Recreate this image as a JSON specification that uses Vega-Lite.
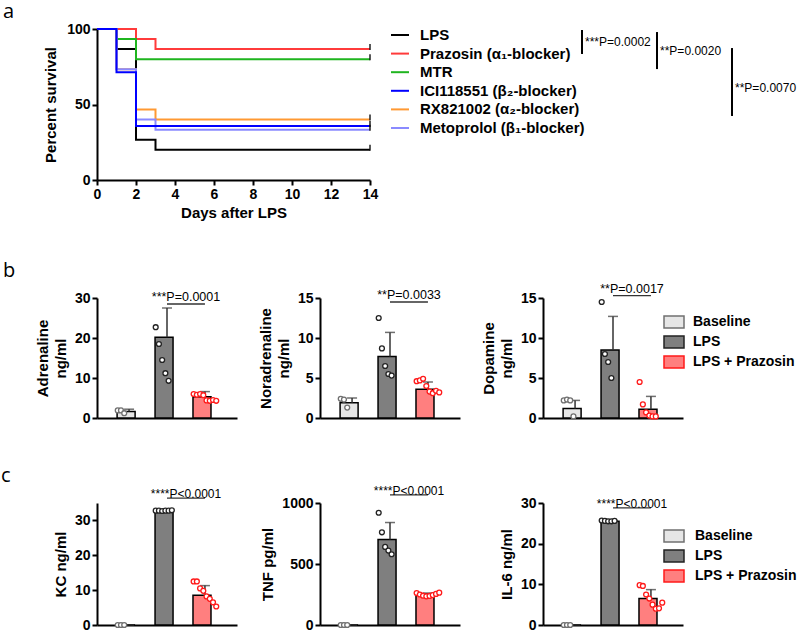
{
 "$schema": "https://vega.github.io/schema/vega-lite/v6.json",
 "background": "white",
 "padding": {"left": 1, "top": 2, "right": 0, "bottom": 0},
 "config": {
  "font": "Liberation Sans",
  "view": {"stroke": null},
  "axis": {"domainColor": "black", "domainWidth": 2, "tickColor": "black", "tickWidth": 2, "tickSize": 5, "labelFontWeight": "bold", "labelFontSize": 14, "labelColor": "black", "labelPadding": 2, "labelOverlap": false, "labelFlush": false, "titleFontWeight": "bold", "titleFontSize": 15, "titleColor": "black", "grid": false},
  "legend": {"labelFontWeight": "bold", "labelFontSize": 15, "labelColor": "black", "padding": 0, "labelLimit": 400},
  "title": {"anchor": "start", "frame": "group", "font": "Open Sans", "fontSize": 20, "fontWeight": "normal", "color": "black", "baseline": "alphabetic"},
  "text": {"font": "Liberation Sans", "color": "black"}
 },
 "datasets": {
  "surv": [
   {"group": "LPS", "day": 0, "pct": 100}, {"group": "LPS", "day": 1, "pct": 86.7}, {"group": "LPS", "day": 2, "pct": 26.7}, {"group": "LPS", "day": 3, "pct": 20}, {"group": "LPS", "day": 14, "pct": 20},
   {"group": "Prazosin (α₁-blocker)", "day": 0, "pct": 100}, {"group": "Prazosin (α₁-blocker)", "day": 1, "pct": 100}, {"group": "Prazosin (α₁-blocker)", "day": 2, "pct": 93.3}, {"group": "Prazosin (α₁-blocker)", "day": 3, "pct": 86.7}, {"group": "Prazosin (α₁-blocker)", "day": 14, "pct": 86.7},
   {"group": "MTR", "day": 0, "pct": 100}, {"group": "MTR", "day": 1, "pct": 93.3}, {"group": "MTR", "day": 2, "pct": 80}, {"group": "MTR", "day": 3, "pct": 80}, {"group": "MTR", "day": 14, "pct": 80},
   {"group": "RX821002 (α₂-blocker)", "day": 0, "pct": 100}, {"group": "RX821002 (α₂-blocker)", "day": 1, "pct": 73.3}, {"group": "RX821002 (α₂-blocker)", "day": 2, "pct": 46.7}, {"group": "RX821002 (α₂-blocker)", "day": 3, "pct": 40}, {"group": "RX821002 (α₂-blocker)", "day": 14, "pct": 40},
   {"group": "Metoprolol (β₁-blocker)", "day": 0, "pct": 100}, {"group": "Metoprolol (β₁-blocker)", "day": 1, "pct": 73.3}, {"group": "Metoprolol (β₁-blocker)", "day": 2, "pct": 40}, {"group": "Metoprolol (β₁-blocker)", "day": 3, "pct": 33.3}, {"group": "Metoprolol (β₁-blocker)", "day": 14, "pct": 33.3},
   {"group": "ICI118551 (β₂-blocker)", "day": 0, "pct": 100}, {"group": "ICI118551 (β₂-blocker)", "day": 1, "pct": 71.4}, {"group": "ICI118551 (β₂-blocker)", "day": 2, "pct": 35.7}, {"group": "ICI118551 (β₂-blocker)", "day": 3, "pct": 35.7}, {"group": "ICI118551 (β₂-blocker)", "day": 14, "pct": 35.7}
  ],
  "brk": [
   {"lev": 1, "r1": 0.73, "r2": 2.02, "rl": 1.35, "label": "***P=0.0002"},
   {"lev": 2, "r1": 0.84, "r2": 2.83, "rl": 1.86, "label": "**P=0.0020"},
   {"lev": 3, "r1": 1.7, "r2": 5.35, "rl": 3.85, "label": "**P=0.0070"}
  ],
  "adr_bar": [{"g": "Baseline", "mean": 1.6, "hi": 2.2}, {"g": "LPS", "mean": 20.2, "hi": 27.5}, {"g": "LPS + Prazosin", "mean": 5.3, "hi": 6.6}],
  "nor_bar": [{"g": "Baseline", "mean": 1.9, "hi": 2.5}, {"g": "LPS", "mean": 7.7, "hi": 10.7}, {"g": "LPS + Prazosin", "mean": 3.6, "hi": 4.5}],
  "dop_bar": [{"g": "Baseline", "mean": 1.2, "hi": 2.2}, {"g": "LPS", "mean": 8.5, "hi": 12.7}, {"g": "LPS + Prazosin", "mean": 1.1, "hi": 2.7}],
  "kc_bar": [{"g": "Baseline", "mean": 0, "hi": 0}, {"g": "LPS", "mean": 32.8, "hi": 32.9}, {"g": "LPS + Prazosin", "mean": 8.5, "hi": 11.3}],
  "tnf_bar": [{"g": "Baseline", "mean": 0, "hi": 0}, {"g": "LPS", "mean": 700, "hi": 840}, {"g": "LPS + Prazosin", "mean": 255, "hi": 262}],
  "il6_bar": [{"g": "Baseline", "mean": 0, "hi": 0}, {"g": "LPS", "mean": 25.5, "hi": 25.6}, {"g": "LPS + Prazosin", "mean": 6.5, "hi": 8.7}],
  "adr_pts": [
   {"g": "Baseline", "rep": 1, "v": 1.9}, {"g": "Baseline", "rep": 2, "v": 1.9}, {"g": "Baseline", "rep": 3, "v": 1.2},
   {"g": "LPS", "rep": 1, "v": 22.7}, {"g": "LPS", "rep": 2, "v": 18.5}, {"g": "LPS", "rep": 3, "v": 14.5}, {"g": "LPS", "rep": 4, "v": 11.2}, {"g": "LPS", "rep": 5, "v": 9.3},
   {"g": "LPS + Prazosin", "rep": 1, "v": 6.0}, {"g": "LPS + Prazosin", "rep": 2, "v": 5.8}, {"g": "LPS + Prazosin", "rep": 3, "v": 6.0}, {"g": "LPS + Prazosin", "rep": 4, "v": 5.7}, {"g": "LPS + Prazosin", "rep": 5, "v": 4.4}, {"g": "LPS + Prazosin", "rep": 6, "v": 4.3}, {"g": "LPS + Prazosin", "rep": 7, "v": 4.5}, {"g": "LPS + Prazosin", "rep": 8, "v": 4.3}
  ],
  "nor_pts": [
   {"g": "Baseline", "rep": 1, "v": 2.4}, {"g": "Baseline", "rep": 2, "v": 2.3}, {"g": "Baseline", "rep": 3, "v": 1.3},
   {"g": "LPS", "rep": 1, "v": 12.5}, {"g": "LPS", "rep": 2, "v": 8.7}, {"g": "LPS", "rep": 3, "v": 6.5}, {"g": "LPS", "rep": 4, "v": 5.5}, {"g": "LPS", "rep": 5, "v": 5.3},
   {"g": "LPS + Prazosin", "rep": 1, "v": 4.6}, {"g": "LPS + Prazosin", "rep": 2, "v": 4.7}, {"g": "LPS + Prazosin", "rep": 3, "v": 4.9}, {"g": "LPS + Prazosin", "rep": 4, "v": 4.0}, {"g": "LPS + Prazosin", "rep": 5, "v": 3.3}, {"g": "LPS + Prazosin", "rep": 6, "v": 3.1}, {"g": "LPS + Prazosin", "rep": 7, "v": 3.4}, {"g": "LPS + Prazosin", "rep": 8, "v": 3.2}
  ],
  "dop_pts": [
   {"g": "Baseline", "rep": 1, "v": 2.2}, {"g": "Baseline", "rep": 2, "v": 2.3}, {"g": "Baseline", "rep": 3, "v": 2.2}, {"g": "Baseline", "rep": 4, "v": 0.2},
   {"g": "LPS", "rep": 1, "v": 14.5}, {"g": "LPS", "rep": 2, "v": 8.0}, {"g": "LPS", "rep": 3, "v": 7.0}, {"g": "LPS", "rep": 4, "v": 5.0},
   {"g": "LPS + Prazosin", "rep": 1, "v": 4.5}, {"g": "LPS + Prazosin", "rep": 2, "v": 1.7}, {"g": "LPS + Prazosin", "rep": 3, "v": 0.7}, {"g": "LPS + Prazosin", "rep": 4, "v": 0.3}, {"g": "LPS + Prazosin", "rep": 5, "v": 0.2}, {"g": "LPS + Prazosin", "rep": 6, "v": 0.2}
  ],
  "kc_pts": [
   {"g": "Baseline", "rep": 1, "v": 0}, {"g": "Baseline", "rep": 2, "v": 0}, {"g": "Baseline", "rep": 3, "v": 0},
   {"g": "LPS", "rep": 1, "v": 32.8}, {"g": "LPS", "rep": 2, "v": 32.8}, {"g": "LPS", "rep": 3, "v": 32.7}, {"g": "LPS", "rep": 4, "v": 32.8}, {"g": "LPS", "rep": 5, "v": 32.8}, {"g": "LPS", "rep": 6, "v": 32.9},
   {"g": "LPS + Prazosin", "rep": 1, "v": 12.5}, {"g": "LPS + Prazosin", "rep": 2, "v": 12.5}, {"g": "LPS + Prazosin", "rep": 3, "v": 10.5}, {"g": "LPS + Prazosin", "rep": 4, "v": 9.8}, {"g": "LPS + Prazosin", "rep": 5, "v": 8.2}, {"g": "LPS + Prazosin", "rep": 6, "v": 7.5}, {"g": "LPS + Prazosin", "rep": 7, "v": 6.5}, {"g": "LPS + Prazosin", "rep": 8, "v": 5.3}
  ],
  "tnf_pts": [
   {"g": "Baseline", "rep": 1, "v": 0}, {"g": "Baseline", "rep": 2, "v": 0}, {"g": "Baseline", "rep": 3, "v": 0},
   {"g": "LPS", "rep": 1, "v": 920}, {"g": "LPS", "rep": 2, "v": 760}, {"g": "LPS", "rep": 3, "v": 640}, {"g": "LPS", "rep": 4, "v": 610}, {"g": "LPS", "rep": 5, "v": 580},
   {"g": "LPS + Prazosin", "rep": 1, "v": 262}, {"g": "LPS + Prazosin", "rep": 2, "v": 250}, {"g": "LPS + Prazosin", "rep": 3, "v": 240}, {"g": "LPS + Prazosin", "rep": 4, "v": 235}, {"g": "LPS + Prazosin", "rep": 5, "v": 238}, {"g": "LPS + Prazosin", "rep": 6, "v": 245}, {"g": "LPS + Prazosin", "rep": 7, "v": 255}, {"g": "LPS + Prazosin", "rep": 8, "v": 265}
  ],
  "il6_pts": [
   {"g": "Baseline", "rep": 1, "v": 0}, {"g": "Baseline", "rep": 2, "v": 0}, {"g": "Baseline", "rep": 3, "v": 0},
   {"g": "LPS", "rep": 1, "v": 25.7}, {"g": "LPS", "rep": 2, "v": 25.6}, {"g": "LPS", "rep": 3, "v": 25.5}, {"g": "LPS", "rep": 4, "v": 25.5}, {"g": "LPS", "rep": 5, "v": 25.6},
   {"g": "LPS + Prazosin", "rep": 1, "v": 9.8}, {"g": "LPS + Prazosin", "rep": 2, "v": 9.6}, {"g": "LPS + Prazosin", "rep": 3, "v": 7.5}, {"g": "LPS + Prazosin", "rep": 4, "v": 6.5}, {"g": "LPS + Prazosin", "rep": 5, "v": 5.0}, {"g": "LPS + Prazosin", "rep": 6, "v": 4.0}, {"g": "LPS + Prazosin", "rep": 7, "v": 4.1}, {"g": "LPS + Prazosin", "rep": 8, "v": 5.5}
  ],
  "adr_ann": [{"a": "LPS", "b": "LPS + Prazosin", "y": 28.5, "label": "***P=0.0001"}],
  "nor_ann": [{"a": "LPS", "b": "LPS + Prazosin", "y": 14.5, "label": "**P=0.0033"}],
  "dop_ann": [{"a": "LPS", "b": "LPS + Prazosin", "y": 15.3, "label": "**P=0.0017"}],
  "kc_ann": [{"a": "LPS", "b": "LPS + Prazosin", "y": 36.4, "label": "****P<0.0001"}],
  "tnf_ann": [{"a": "LPS", "b": "LPS + Prazosin", "y": 1066, "label": "****P<0.0001"}],
  "il6_ann": [{"a": "LPS", "b": "LPS + Prazosin", "y": 28.8, "label": "****P<0.0001"}]
 },
 "resolve": {"scale": {"fill": "independent", "stroke": "independent", "color": "independent"}, "legend": {"fill": "independent", "stroke": "independent", "color": "independent"}},
 "spacing": 41,
 "vconcat": [
  {
   "bounds": "flush",
   "spacing": 207,
   "hconcat": [
    {
     "width": 273, "height": 151,
     "title": {"text": "a", "dx": -94, "offset": 0},
     "data": {"name": "surv"},
     "layer": [
      {
       "mark": {"type": "line", "interpolate": "step-after", "strokeWidth": 2},
       "encoding": {
        "x": {"field": "day", "type": "quantitative", "scale": {"domain": [0, 14], "nice": false}, "axis": {"values": [0, 2, 4, 6, 8, 10, 12, 14], "tickCount": 20, "format": "d", "title": "Days after LPS", "titlePadding": 4}},
        "y": {"field": "pct", "type": "quantitative", "scale": {"domain": [0, 100], "nice": false}, "axis": {"values": [0, 50, 100], "tickCount": 20, "format": "d", "title": "Percent survival", "titlePadding": 8}},
        "color": {"field": "group", "type": "nominal",
         "scale": {"domain": ["LPS", "Prazosin (α₁-blocker)", "MTR", "ICI118551 (β₂-blocker)", "RX821002 (α₂-blocker)", "Metoprolol (β₁-blocker)"], "range": ["#000000", "#ff3b3b", "#1fb51f", "#0000ff", "#ff9933", "#8a8aff"]},
         "legend": {"orient": "none", "legendX": 293, "legendY": -4, "title": null, "symbolType": "stroke", "symbolSize": 324, "symbolStrokeWidth": 2, "labelOffset": 10, "rowPadding": 0.6}}
       }
      },
      {
       "transform": [{"filter": "datum.day == 14"}],
       "mark": {"type": "tick", "orient": "vertical", "color": "#111111", "size": 6, "thickness": 2, "yOffset": -2},
       "encoding": {
        "x": {"field": "day", "type": "quantitative"},
        "y": {"field": "pct", "type": "quantitative"}
       }
      }
     ]
    },
    {
     "width": 225, "height": 151,
     "data": {"name": "brk"},
     "layer": [
      {
       "mark": {"type": "rule", "color": "black", "strokeWidth": 2},
       "encoding": {
        "x": {"field": "lev", "type": "quantitative", "scale": {"domain": [0.933, 3.933], "nice": false, "zero": false}, "axis": null},
        "y": {"field": "r1", "type": "quantitative", "scale": {"domain": [0.677, 8.79], "reverse": true, "nice": false, "zero": false}, "axis": null},
        "y2": {"field": "r2"}
       }
      },
      {
       "mark": {"type": "text", "align": "left", "baseline": "middle", "dx": 3, "fontSize": 12},
       "encoding": {
        "x": {"field": "lev", "type": "quantitative"},
        "y": {"field": "rl", "type": "quantitative"},
        "text": {"field": "label"}
       }
      }
     ]
    }
   ]
  },
  {
   "bounds": "flush",
   "spacing": 83,
   "resolve": {"scale": {"fill": "independent", "stroke": "independent"}, "legend": {"fill": "independent", "stroke": "independent"}},
   "hconcat": [
    {
     "width": 140, "height": 120,
     "title": {"text": "b", "dx": -94, "offset": 10},
     "layer": [
      {"data": {"name": "adr_bar"}, "mark": {"type": "bar", "stroke": "black", "strokeWidth": 1.5},
       "encoding": {
        "x": {"field": "g", "type": "nominal", "scale": {"domain": ["Baseline", "LPS", "LPS + Prazosin"], "paddingInner": 0.37, "paddingOuter": 0.53}, "axis": {"labels": false, "ticks": false, "title": null}},
        "y": {"field": "mean", "type": "quantitative", "scale": {"domain": [0, 30], "nice": false}, "axis": {"values": [0, 10, 20, 30], "tickCount": 20, "format": "d", "title": ["Adrenaline", "ng/ml"], "titleLineHeight": 18, "titlePadding": 6}},
        "fill": {"field": "g", "type": "nominal", "scale": {"domain": ["Baseline", "LPS", "LPS + Prazosin"], "range": ["#e6e6e6", "#7f7f7f", "#ff7f7f"]}, "legend": null}}},
      {"data": {"name": "adr_bar"}, "mark": {"type": "rule", "color": "#333333", "strokeWidth": 1.5},
       "encoding": {"x": {"field": "g", "type": "nominal"}, "y": {"field": "mean", "type": "quantitative"}, "y2": {"field": "hi"}}},
      {"data": {"name": "adr_bar"}, "mark": {"type": "tick", "color": "#333333", "thickness": 1.5, "size": 10},
       "encoding": {"x": {"field": "g", "type": "nominal"}, "y": {"field": "hi", "type": "quantitative"}}},
      {"data": {"name": "adr_pts"}, "mark": {"type": "point", "shape": "circle", "fill": "white", "fillOpacity": 1, "opacity": 1, "size": 24, "strokeWidth": 1.3},
       "encoding": {"x": {"field": "g", "type": "nominal"}, "xOffset": {"field": "rep", "type": "nominal", "scale": {"paddingOuter": 0.2}}, "y": {"field": "v", "type": "quantitative"},
        "stroke": {"field": "g", "type": "nominal", "scale": {"domain": ["Baseline", "LPS", "LPS + Prazosin"], "range": ["#707070", "#222222", "#ff1a1a"]}, "legend": null}}},
      {"data": {"name": "adr_ann"}, "mark": {"type": "rule", "color": "#333333", "strokeWidth": 1.3},
       "encoding": {"x": {"field": "a", "type": "nominal"}, "x2": {"field": "b"}, "y": {"field": "y", "type": "quantitative"}}},
      {"data": {"name": "adr_ann"}, "mark": {"type": "text", "fontSize": 12.5, "baseline": "alphabetic", "dx": 19, "dy": -3},
       "encoding": {"x": {"field": "a", "type": "nominal"}, "y": {"field": "y", "type": "quantitative"}, "text": {"field": "label"}}}
     ]
    },
    {
     "width": 140, "height": 120,
     "layer": [
      {"data": {"name": "nor_bar"}, "mark": {"type": "bar", "stroke": "black", "strokeWidth": 1.5},
       "encoding": {
        "x": {"field": "g", "type": "nominal", "scale": {"domain": ["Baseline", "LPS", "LPS + Prazosin"], "paddingInner": 0.37, "paddingOuter": 0.53}, "axis": {"labels": false, "ticks": false, "title": null}},
        "y": {"field": "mean", "type": "quantitative", "scale": {"domain": [0, 15], "nice": false}, "axis": {"values": [0, 5, 10, 15], "tickCount": 20, "format": "d", "title": ["Noradrenaline", "ng/ml"], "titleLineHeight": 18, "titlePadding": 6}},
        "fill": {"field": "g", "type": "nominal", "scale": {"domain": ["Baseline", "LPS", "LPS + Prazosin"], "range": ["#e6e6e6", "#7f7f7f", "#ff7f7f"]}, "legend": null}}},
      {"data": {"name": "nor_bar"}, "mark": {"type": "rule", "color": "#333333", "strokeWidth": 1.5},
       "encoding": {"x": {"field": "g", "type": "nominal"}, "y": {"field": "mean", "type": "quantitative"}, "y2": {"field": "hi"}}},
      {"data": {"name": "nor_bar"}, "mark": {"type": "tick", "color": "#333333", "thickness": 1.5, "size": 10},
       "encoding": {"x": {"field": "g", "type": "nominal"}, "y": {"field": "hi", "type": "quantitative"}}},
      {"data": {"name": "nor_pts"}, "mark": {"type": "point", "shape": "circle", "fill": "white", "fillOpacity": 1, "opacity": 1, "size": 24, "strokeWidth": 1.3},
       "encoding": {"x": {"field": "g", "type": "nominal"}, "xOffset": {"field": "rep", "type": "nominal", "scale": {"paddingOuter": 0.2}}, "y": {"field": "v", "type": "quantitative"},
        "stroke": {"field": "g", "type": "nominal", "scale": {"domain": ["Baseline", "LPS", "LPS + Prazosin"], "range": ["#707070", "#222222", "#ff1a1a"]}, "legend": null}}},
      {"data": {"name": "nor_ann"}, "mark": {"type": "rule", "color": "#333333", "strokeWidth": 1.3},
       "encoding": {"x": {"field": "a", "type": "nominal"}, "x2": {"field": "b"}, "y": {"field": "y", "type": "quantitative"}}},
      {"data": {"name": "nor_ann"}, "mark": {"type": "text", "fontSize": 12.5, "baseline": "alphabetic", "dx": 19, "dy": -3},
       "encoding": {"x": {"field": "a", "type": "nominal"}, "y": {"field": "y", "type": "quantitative"}, "text": {"field": "label"}}}
     ]
    },
    {
     "width": 140, "height": 120,
     "layer": [
      {"data": {"name": "dop_bar"}, "mark": {"type": "bar", "stroke": "black", "strokeWidth": 1.5},
       "encoding": {
        "x": {"field": "g", "type": "nominal", "scale": {"domain": ["Baseline", "LPS", "LPS + Prazosin"], "paddingInner": 0.37, "paddingOuter": 0.53}, "axis": {"labels": false, "ticks": false, "title": null}},
        "y": {"field": "mean", "type": "quantitative", "scale": {"domain": [0, 15], "nice": false}, "axis": {"values": [0, 5, 10, 15], "tickCount": 20, "format": "d", "title": ["Dopamine", "ng/ml"], "titleLineHeight": 18, "titlePadding": 6}},
        "fill": {"field": "g", "type": "nominal", "scale": {"domain": ["Baseline", "LPS", "LPS + Prazosin"], "range": ["#e6e6e6", "#7f7f7f", "#ff7f7f"]},
         "legend": {"orient": "none", "legendX": 120, "legendY": 13, "title": null, "symbolType": "M-1,-0.6H1V0.6H-1Z", "symbolSize": 400, "symbolStrokeColor": "black", "symbolStrokeWidth": 1.5, "labelOffset": 8, "labelFontSize": 14, "rowPadding": 0}}}},
      {"data": {"name": "dop_bar"}, "mark": {"type": "rule", "color": "#333333", "strokeWidth": 1.5},
       "encoding": {"x": {"field": "g", "type": "nominal"}, "y": {"field": "mean", "type": "quantitative"}, "y2": {"field": "hi"}}},
      {"data": {"name": "dop_bar"}, "mark": {"type": "tick", "color": "#333333", "thickness": 1.5, "size": 10},
       "encoding": {"x": {"field": "g", "type": "nominal"}, "y": {"field": "hi", "type": "quantitative"}}},
      {"data": {"name": "dop_pts"}, "mark": {"type": "point", "shape": "circle", "fill": "white", "fillOpacity": 1, "opacity": 1, "size": 24, "strokeWidth": 1.3},
       "encoding": {"x": {"field": "g", "type": "nominal"}, "xOffset": {"field": "rep", "type": "nominal", "scale": {"paddingOuter": 0.2}}, "y": {"field": "v", "type": "quantitative"},
        "stroke": {"field": "g", "type": "nominal", "scale": {"domain": ["Baseline", "LPS", "LPS + Prazosin"], "range": ["#707070", "#222222", "#ff1a1a"]}, "legend": null}}},
      {"data": {"name": "dop_ann"}, "mark": {"type": "rule", "color": "#333333", "strokeWidth": 1.3},
       "encoding": {"x": {"field": "a", "type": "nominal"}, "x2": {"field": "b"}, "y": {"field": "y", "type": "quantitative"}}},
      {"data": {"name": "dop_ann"}, "mark": {"type": "text", "fontSize": 12.5, "baseline": "alphabetic", "dx": 19, "dy": -3},
       "encoding": {"x": {"field": "a", "type": "nominal"}, "y": {"field": "y", "type": "quantitative"}, "text": {"field": "label"}}}
     ]
    }
   ]
  },
  {
   "bounds": "flush",
   "spacing": 83,
   "resolve": {"scale": {"fill": "independent", "stroke": "independent"}, "legend": {"fill": "independent", "stroke": "independent"}},
   "hconcat": [
    {
     "width": 140, "height": 122,
     "title": {"text": "c", "dx": -96, "offset": 2},
     "layer": [
      {"data": {"name": "kc_bar"}, "mark": {"type": "bar", "stroke": "black", "strokeWidth": 1.5},
       "encoding": {
        "x": {"field": "g", "type": "nominal", "scale": {"domain": ["Baseline", "LPS", "LPS + Prazosin"], "paddingInner": 0.37, "paddingOuter": 0.53}, "axis": {"labels": false, "ticks": false, "title": null}},
        "y": {"field": "mean", "type": "quantitative", "scale": {"domain": [0, 35], "nice": false}, "axis": {"values": [0, 10, 20, 30], "tickCount": 20, "format": "d", "title": "KC ng/ml", "titlePadding": 6}},
        "fill": {"field": "g", "type": "nominal", "scale": {"domain": ["Baseline", "LPS", "LPS + Prazosin"], "range": ["#e6e6e6", "#7f7f7f", "#ff7f7f"]}, "legend": null}}},
      {"data": {"name": "kc_bar"}, "mark": {"type": "rule", "color": "#333333", "strokeWidth": 1.5},
       "encoding": {"x": {"field": "g", "type": "nominal"}, "y": {"field": "mean", "type": "quantitative"}, "y2": {"field": "hi"}}},
      {"data": {"name": "kc_bar"}, "mark": {"type": "tick", "color": "#333333", "thickness": 1.5, "size": 10},
       "encoding": {"x": {"field": "g", "type": "nominal"}, "y": {"field": "hi", "type": "quantitative"}}},
      {"data": {"name": "kc_pts"}, "mark": {"type": "point", "shape": "circle", "fill": "white", "fillOpacity": 1, "opacity": 1, "size": 24, "strokeWidth": 1.3},
       "encoding": {"x": {"field": "g", "type": "nominal"}, "xOffset": {"field": "rep", "type": "nominal", "scale": {"paddingOuter": 0.2}}, "y": {"field": "v", "type": "quantitative"},
        "stroke": {"field": "g", "type": "nominal", "scale": {"domain": ["Baseline", "LPS", "LPS + Prazosin"], "range": ["#707070", "#222222", "#ff1a1a"]}, "legend": null}}},
      {"data": {"name": "kc_ann"}, "mark": {"type": "rule", "color": "#333333", "strokeWidth": 1.3},
       "encoding": {"x": {"field": "a", "type": "nominal"}, "x2": {"field": "b"}, "y": {"field": "y", "type": "quantitative"}}},
      {"data": {"name": "kc_ann"}, "mark": {"type": "text", "fontSize": 12, "baseline": "alphabetic", "dx": 19, "dy": 0},
       "encoding": {"x": {"field": "a", "type": "nominal"}, "y": {"field": "y", "type": "quantitative"}, "text": {"field": "label"}}}
     ]
    },
    {
     "width": 140, "height": 122,
     "layer": [
      {"data": {"name": "tnf_bar"}, "mark": {"type": "bar", "stroke": "black", "strokeWidth": 1.5},
       "encoding": {
        "x": {"field": "g", "type": "nominal", "scale": {"domain": ["Baseline", "LPS", "LPS + Prazosin"], "paddingInner": 0.37, "paddingOuter": 0.53}, "axis": {"labels": false, "ticks": false, "title": null}},
        "y": {"field": "mean", "type": "quantitative", "scale": {"domain": [0, 1000], "nice": false}, "axis": {"values": [0, 500, 1000], "tickCount": 20, "format": "d", "title": "TNF pg/ml", "titlePadding": 6}},
        "fill": {"field": "g", "type": "nominal", "scale": {"domain": ["Baseline", "LPS", "LPS + Prazosin"], "range": ["#e6e6e6", "#7f7f7f", "#ff7f7f"]}, "legend": null}}},
      {"data": {"name": "tnf_bar"}, "mark": {"type": "rule", "color": "#333333", "strokeWidth": 1.5},
       "encoding": {"x": {"field": "g", "type": "nominal"}, "y": {"field": "mean", "type": "quantitative"}, "y2": {"field": "hi"}}},
      {"data": {"name": "tnf_bar"}, "mark": {"type": "tick", "color": "#333333", "thickness": 1.5, "size": 10},
       "encoding": {"x": {"field": "g", "type": "nominal"}, "y": {"field": "hi", "type": "quantitative"}}},
      {"data": {"name": "tnf_pts"}, "mark": {"type": "point", "shape": "circle", "fill": "white", "fillOpacity": 1, "opacity": 1, "size": 24, "strokeWidth": 1.3},
       "encoding": {"x": {"field": "g", "type": "nominal"}, "xOffset": {"field": "rep", "type": "nominal", "scale": {"paddingOuter": 0.2}}, "y": {"field": "v", "type": "quantitative"},
        "stroke": {"field": "g", "type": "nominal", "scale": {"domain": ["Baseline", "LPS", "LPS + Prazosin"], "range": ["#707070", "#222222", "#ff1a1a"]}, "legend": null}}},
      {"data": {"name": "tnf_ann"}, "mark": {"type": "rule", "color": "#333333", "strokeWidth": 1.3},
       "encoding": {"x": {"field": "a", "type": "nominal"}, "x2": {"field": "b"}, "y": {"field": "y", "type": "quantitative"}}},
      {"data": {"name": "tnf_ann"}, "mark": {"type": "text", "fontSize": 12, "baseline": "alphabetic", "dx": 19, "dy": 0},
       "encoding": {"x": {"field": "a", "type": "nominal"}, "y": {"field": "y", "type": "quantitative"}, "text": {"field": "label"}}}
     ]
    },
    {
     "width": 140, "height": 122,
     "layer": [
      {"data": {"name": "il6_bar"}, "mark": {"type": "bar", "stroke": "black", "strokeWidth": 1.5},
       "encoding": {
        "x": {"field": "g", "type": "nominal", "scale": {"domain": ["Baseline", "LPS", "LPS + Prazosin"], "paddingInner": 0.37, "paddingOuter": 0.53}, "axis": {"labels": false, "ticks": false, "title": null}},
        "y": {"field": "mean", "type": "quantitative", "scale": {"domain": [0, 30], "nice": false}, "axis": {"values": [0, 10, 20, 30], "tickCount": 20, "format": "d", "title": "IL-6 ng/ml", "titlePadding": 6}},
        "fill": {"field": "g", "type": "nominal", "scale": {"domain": ["Baseline", "LPS", "LPS + Prazosin"], "range": ["#e6e6e6", "#7f7f7f", "#ff7f7f"]},
         "legend": {"orient": "none", "legendX": 120, "legendY": 22, "title": null, "symbolType": "M-1,-0.6H1V0.6H-1Z", "symbolSize": 400, "symbolStrokeColor": "black", "symbolStrokeWidth": 1.5, "labelOffset": 10, "labelFontSize": 14, "rowPadding": 0}}}},
      {"data": {"name": "il6_bar"}, "mark": {"type": "rule", "color": "#333333", "strokeWidth": 1.5},
       "encoding": {"x": {"field": "g", "type": "nominal"}, "y": {"field": "mean", "type": "quantitative"}, "y2": {"field": "hi"}}},
      {"data": {"name": "il6_bar"}, "mark": {"type": "tick", "color": "#333333", "thickness": 1.5, "size": 10},
       "encoding": {"x": {"field": "g", "type": "nominal"}, "y": {"field": "hi", "type": "quantitative"}}},
      {"data": {"name": "il6_pts"}, "mark": {"type": "point", "shape": "circle", "fill": "white", "fillOpacity": 1, "opacity": 1, "size": 24, "strokeWidth": 1.3},
       "encoding": {"x": {"field": "g", "type": "nominal"}, "xOffset": {"field": "rep", "type": "nominal", "scale": {"paddingOuter": 0.2}}, "y": {"field": "v", "type": "quantitative"},
        "stroke": {"field": "g", "type": "nominal", "scale": {"domain": ["Baseline", "LPS", "LPS + Prazosin"], "range": ["#707070", "#222222", "#ff1a1a"]}, "legend": null}}},
      {"data": {"name": "il6_ann"}, "mark": {"type": "rule", "color": "#333333", "strokeWidth": 1.3},
       "encoding": {"x": {"field": "a", "type": "nominal"}, "x2": {"field": "b"}, "y": {"field": "y", "type": "quantitative"}}},
      {"data": {"name": "il6_ann"}, "mark": {"type": "text", "fontSize": 12, "baseline": "alphabetic", "dx": 19, "dy": 0},
       "encoding": {"x": {"field": "a", "type": "nominal"}, "y": {"field": "y", "type": "quantitative"}, "text": {"field": "label"}}}
     ]
    }
   ]
  }
 ]
}
